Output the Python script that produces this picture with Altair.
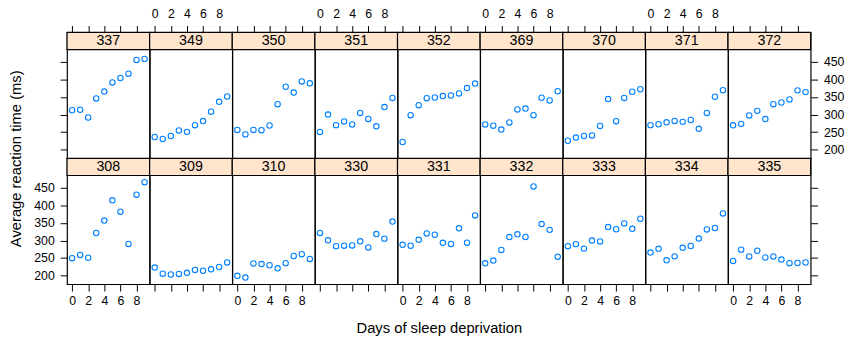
import altair as alt
import pandas as pd

days = [0, 1, 2, 3, 4, 5, 6, 7, 8, 9]
top_row = ["337", "349", "350", "351", "352", "369", "370", "371", "372"]
bottom_row = ["308", "309", "310", "330", "331", "332", "333", "334", "335"]
x_ticks = [0, 2, 4, 6, 8]
y_ticks = [200, 250, 300, 350, 400, 450]

r308 = [249.6, 258.7, 250.8, 321.4, 356.9, 414.7, 382.2, 290.1, 430.6, 466.4]
r309 = [222.7, 205.3, 203.0, 204.7, 207.7, 216.0, 213.6, 217.7, 224.3, 237.3]
r310 = [199.1, 194.3, 234.3, 232.8, 229.3, 220.5, 235.4, 255.8, 261.0, 247.5]
r330 = [321.5, 300.4, 283.9, 285.1, 285.8, 297.6, 280.2, 318.3, 305.3, 354.0]
r331 = [287.6, 285.0, 301.8, 320.1, 316.3, 293.3, 290.1, 334.8, 293.7, 371.6]
r332 = [234.9, 242.8, 273.0, 309.8, 317.5, 310.0, 454.2, 346.8, 330.3, 253.9]
r333 = [283.8, 289.6, 276.8, 299.8, 297.2, 338.2, 332.0, 348.8, 333.4, 362.0]
r334 = [265.5, 276.2, 243.4, 254.7, 279.0, 284.2, 305.5, 331.5, 335.7, 377.3]
r335 = [241.6, 273.9, 254.5, 270.8, 251.5, 254.6, 245.5, 235.3, 235.8, 237.2]
r337 = [312.4, 313.8, 291.6, 346.1, 365.7, 391.8, 404.3, 416.7, 455.9, 458.9]
r349 = [236.1, 230.3, 238.9, 254.9, 250.7, 269.8, 281.6, 308.1, 336.3, 351.6]
r350 = [256.3, 243.5, 256.2, 255.5, 268.9, 329.7, 379.4, 362.9, 394.5, 389.1]
r351 = [250.5, 300.1, 269.9, 280.6, 271.8, 304.6, 287.7, 266.6, 321.5, 347.6]
r352 = [221.7, 298.2, 326.9, 346.9, 348.7, 352.8, 354.4, 360.4, 375.6, 388.5]
r369 = [271.9, 268.4, 257.2, 277.7, 314.8, 317.2, 298.1, 348.1, 340.3, 366.5]
r370 = [225.3, 234.5, 238.9, 240.5, 267.5, 344.2, 281.1, 347.6, 365.2, 372.2]
r371 = [269.9, 272.4, 277.9, 281.8, 279.2, 284.5, 259.3, 304.6, 350.8, 369.5]
r372 = [269.4, 273.5, 297.6, 310.6, 287.2, 329.6, 334.5, 343.2, 369.1, 364.1]

reaction = {
    "308": r308, "309": r309, "310": r310, "330": r330, "331": r331,
    "332": r332, "333": r333, "334": r334, "335": r335, "337": r337,
    "349": r349, "350": r350, "351": r351, "352": r352, "369": r369,
    "370": r370, "371": r371, "372": r372,
}

FONT = "Liberation Sans"
W = 84
H = 128
S = 17.5
X_DOMAIN = [-0.63, 9.63]
Y_DOMAIN = [175.29, 485.39]


def panel(subj, r, c):
    df = pd.DataFrame({"Days": days, "Reaction": reaction[subj]})
    if r == 0:
        xkw = dict(orient="top", values=x_ticks, labels=(c % 2 == 1), title=None, labelPadding=5)
    else:
        xkw = dict(orient="bottom", values=x_ticks, labels=(c % 2 == 0), title=None, labelPadding=3.5)
        if c == 4:
            xkw["title"] = "Days of sleep deprivation"
            xkw["titlePadding"] = 14
    xax = alt.Axis(**xkw)
    if c == 0:
        ykw = dict(orient="left", values=y_ticks, labels=(r == 1), title=None, labelPadding=6)
        if r == 1:
            ykw["title"] = "Average reaction time (ms)"
            ykw["titleY"] = 0
            ykw["titlePadding"] = 10
        yax = alt.Axis(**ykw)
    elif c == 8:
        yax = alt.Axis(orient="right", values=y_ticks, labels=(r == 0), title=None, labelPadding=6)
    else:
        yax = None

    pts = alt.Chart(df).mark_point(
        shape="circle", filled=False, color="#0080ff", size=30, strokeWidth=1.1, opacity=1
    ).encode(
        x=alt.X("Days:Q", scale=alt.Scale(domain=X_DOMAIN, nice=False, zero=False), axis=xax),
        y=alt.Y("Reaction:Q", scale=alt.Scale(domain=Y_DOMAIN, range=[H, S], nice=False, zero=False), axis=yax),
    )
    sdf = pd.DataFrame({"s": [subj]})
    strip = alt.Chart(sdf).mark_rect(fill="#ffe5cc", stroke="black", strokeWidth=1.2).encode(
        x=alt.value(0), x2=alt.value(W), y=alt.value(0), y2=alt.value(S)
    )
    txt = alt.Chart(sdf).mark_text(font=FONT, fontSize=14.5, baseline="middle", align="center", color="black").encode(
        text="s:N", x=alt.value(W / 2), y=alt.value(S / 2 + 0.5)
    )
    return alt.layer(strip, txt, pts).properties(width=W, height=H)


panels = []
for r, row in enumerate([top_row, bottom_row]):
    for c, subj in enumerate(row):
        panels.append(panel(subj, r, c))

chart = alt.concat(*panels, columns=9, spacing=0, bounds="flush").properties(
    padding={"left": 0, "top": -4, "right": 5, "bottom": 5}
).configure_view(
    stroke="black", strokeWidth=1.2
).configure_axis(
    grid=False, domain=False, tickColor="black", tickSize=7, tickWidth=1,
    labelFont=FONT, labelFontSize=12.5, labelColor="black",
    titleFont=FONT, titleFontSize=15, titleFontWeight="normal", titleColor="black",
)

chart.save("out.html", embed_options={"renderer": "svg", "actions": False})
